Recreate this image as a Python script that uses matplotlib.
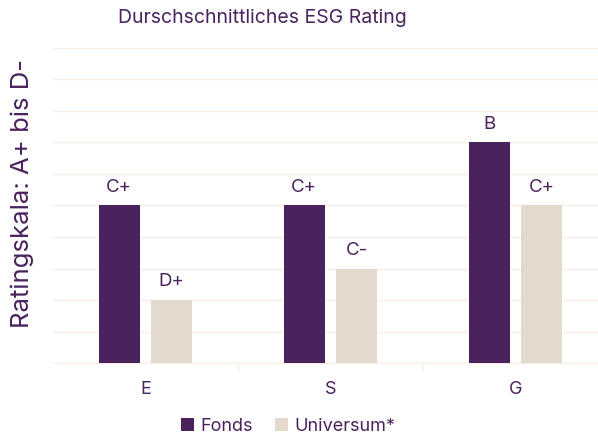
import matplotlib.pyplot as plt
import numpy as np

# ESG rating scale, D- = 0 ... up to 10
categories = ['E', 'S', 'G']
fonds = [5, 5, 7]
universum = [2, 3, 5]
fonds_labels = ['C+', 'C+', 'B']
universum_labels = ['D+', 'C-', 'C+']

purple = '#4a225e'
beige = '#e3d9cc'
grid_c = '#f8eee4'

plt.rcParams['font.family'] = ['Inter', 'DejaVu Sans']

W, H = 598, 436
fig = plt.figure(figsize=(W / 100, H / 100), dpi=100)
ax = fig.add_axes([53 / W, (H - 363) / H, (W - 53) / W, (363 - 48) / H])

x = np.arange(len(categories))
bw = 0.222
off = 0.142
b1 = ax.bar(x - off, fonds, bw, color=purple, label='Fonds', zorder=3)
b2 = ax.bar(x + off, universum, bw, color=beige, label='Universum*', zorder=3)

for bars, labs in [(b1, fonds_labels), (b2, universum_labels)]:
    for b, t in zip(bars, labs):
        ax.annotate(t, (b.get_x() + b.get_width() / 2, b.get_height()),
                    xytext=(0, 7), textcoords='offset points',
                    ha='center', va='bottom', color=purple, fontsize=13.5)

ax.set_ylim(0, 10)
ax.set_xlim(-0.5, 2.5 - 10 / 185)
ax.set_yticks(np.arange(0, 11, 1))
ax.set_yticklabels([])
ax.tick_params(axis='y', length=0)
ax.grid(axis='y', color=grid_c, linewidth=1, zorder=0)

ax.set_xticks([0.5, 1.5], minor=True)
ax.set_xticks(x)
ax.set_xticklabels(categories, color=purple, fontsize=13)
ax.tick_params(axis='x', which='major', length=0, pad=13)
ax.tick_params(axis='x', which='minor', length=6, color=grid_c, width=1)

for s in ['top', 'right', 'left']:
    ax.spines[s].set_visible(False)
ax.spines['bottom'].set_color(grid_c)
ax.spines['bottom'].set_bounds(-0.5, 2.5)

fig.text(262 / W, 1 - 18 / H, 'Durschschnittliches ESG Rating', ha='center', va='center',
         color=purple, fontsize=14)
fig.text(22 / W, 1 - 193 / H, 'Ratingskala: A+ bis D-', rotation=90, ha='center', va='center',
         color=purple, fontsize=18.5)

fig.legend(loc='center', bbox_to_anchor=(288 / W, 1 - 426 / H), ncol=2, frameon=False,
           fontsize=13, labelcolor=purple, handlelength=0.75, handleheight=0.75,
           handletextpad=0.35, columnspacing=1.2)

fig.savefig('out.png', dpi=100)
